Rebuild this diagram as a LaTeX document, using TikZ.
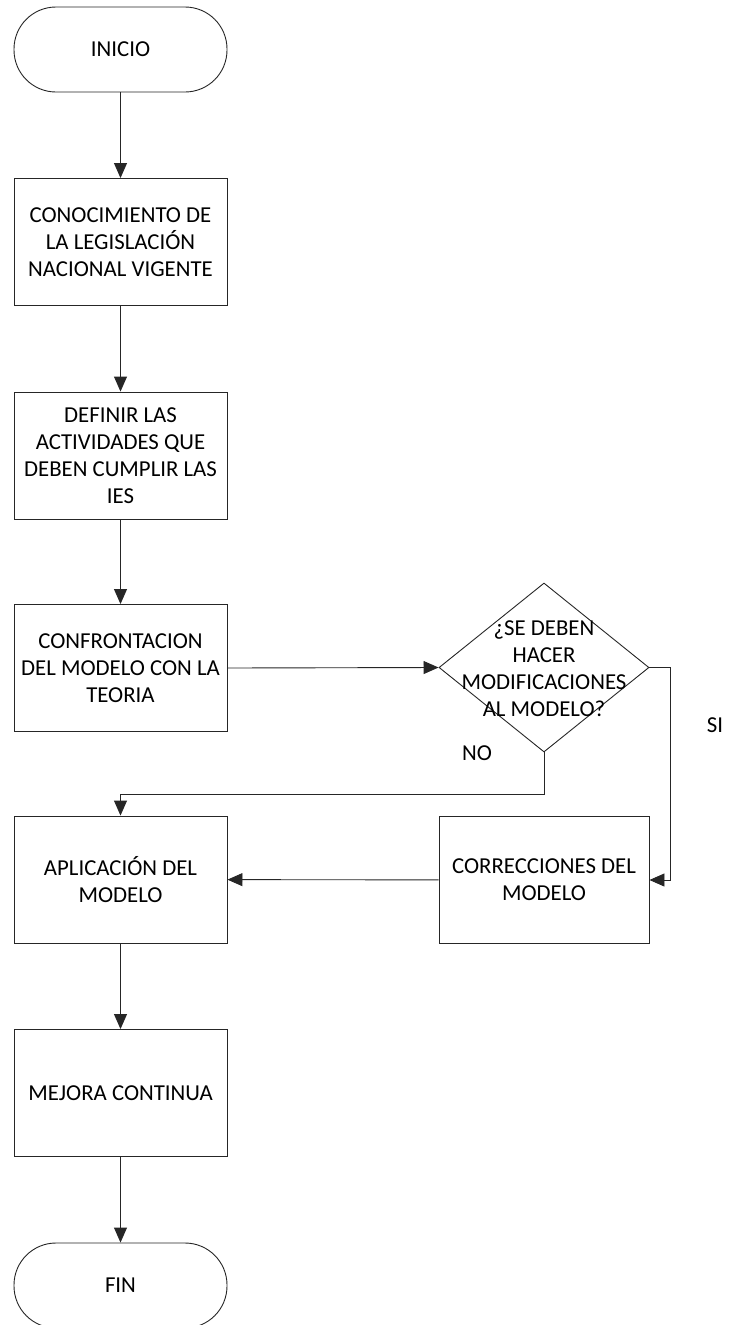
\documentclass[tikz,border=0pt]{standalone}
\usepackage{fontspec}
\setmainfont{Carlito}
\usetikzlibrary{shapes.geometric,arrows.meta}
\begin{document}
\begin{tikzpicture}[x=1pt,y=-1pt,
  every node/.style={font=\fontsize{22.8}{27}\selectfont, align=center, text=black},
  proc/.style={draw=black!85, line width=0.9pt, minimum width=213pt, minimum height=127pt, inner sep=0pt},
  term/.style={draw=black!85, line width=0.9pt, minimum width=213pt, minimum height=85pt, rounded corners=42pt},
  decision/.style={diamond, draw=black!85, line width=0.9pt, minimum width=210pt, minimum height=169pt, inner sep=0pt},
  conn/.style={draw=black!85, line width=0.9pt, -{Triangle[length=15pt,width=13pt]}},
]
\clip (0,0) rectangle (730,1325);
\useasboundingbox (0,0) rectangle (730,1325);

\node[term] (inicio) at (120.5,49.5) {INICIO};
\node[proc] (b1) at (120.5,242) {CONOCIMIENTO DE\\LA LEGISLACIÓN\\NACIONAL VIGENTE};
\node[proc] (b2) at (120.5,455.5) {DEFINIR LAS\\ACTIVIDADES QUE\\DEBEN CUMPLIR LAS\\IES};
\node[proc] (b3) at (120.5,668) {CONFRONTACION\\DEL MODELO CON LA\\TEORIA};
\node[decision] (d) at (544,667.5) {};
\node (dt) at (544,669) {¿SE DEBEN\\HACER\\MODIFICACIONES\\AL MODELO?};
\node[proc] (b4) at (120.5,879.5) {APLICACIÓN DEL\\MODELO};
\node[proc, minimum width=210pt] (corr) at (544,880) {CORRECCIONES DEL\\MODELO};
\node[proc] (b5) at (120.5,1093) {MEJORA CONTINUA};
\node[term] (fin) at (120.5,1285.5) {FIN};
\node (si) at (715,725) {SI};
\node (no) at (477,753) {NO};

\draw[conn] (inicio) -- (b1);
\draw[conn] (b1) -- (b2);
\draw[conn] (b2) -- (b3);
\draw[conn] (b3.east) -- (d.west);
\draw[conn] (d.east) -- ++(21,0) |- (corr.east);
\draw[conn] (d.south) -- ++(0,42) -| (b4.north);
\draw[conn] (corr) -- (b4);
\draw[conn] (b4) -- (b5);
\draw[conn] (b5) -- (fin);
\end{tikzpicture}
\end{document}
